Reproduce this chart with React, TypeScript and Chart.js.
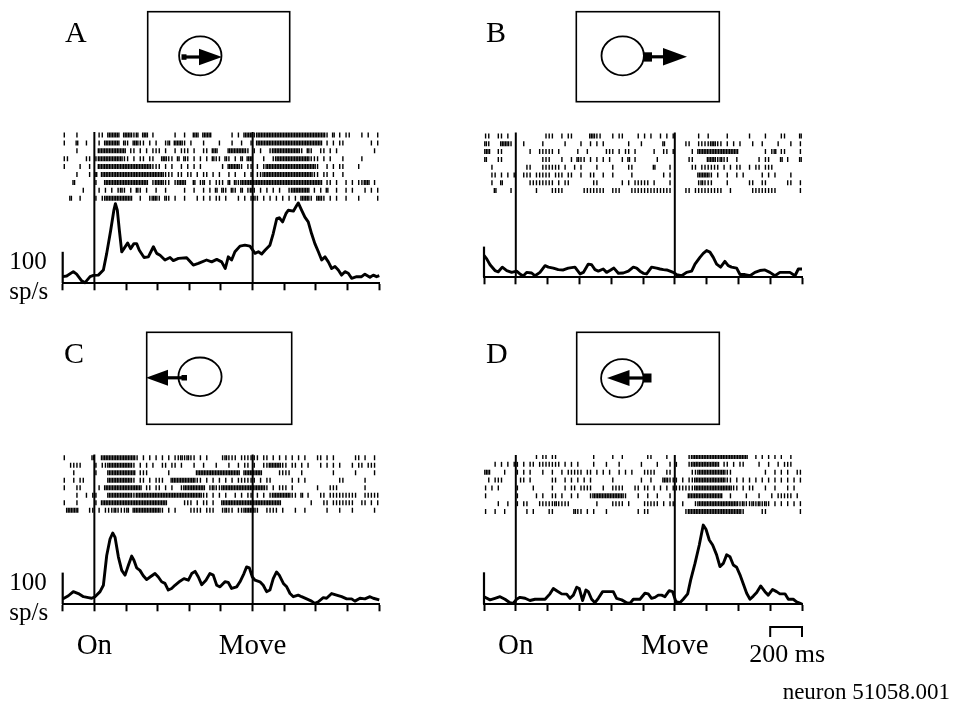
import React, { useEffect, useRef } from 'react';
import { Chart, registerables } from 'chart.js';

Chart.register(...registerables);

// ---------- axes / events ----------
const X_MIN = -200;
const X_MAX = 1800;
const X_STEP = 200;
const EVENT_TIMES = [0, 1000];
const EVENT_LABELS = ['On', 'Move'];
const SCALE_BAR_MS = [1600, 1800];
const SCALE_BAR_LABEL = '200 ms';
const RATE_BAR = [0, 100];
const RATE_LABEL = ['100', 'sp/s'];
const NEURON_LABEL = 'neuron 51058.001';
const BIN_MS = 20; // raster strings: one char = spike count in a 20 ms bin

// ---------- rasters (rows top to bottom) ----------
const RASTER_A = [
  '1...1..... .11.2222.2 2212.22.1. .....1..1. .22.222... ...1.1.222 1222222222 2222222222 2221.2.1.1 1...1.1..1',
  '1...2..1.. .1.22222.2 1.2211.1.1 ..12.2221. 1...1....1 ...1..1..1 .222222222 2222222222 22.1.1.11. .......1.1',
  '....1..... .222222222 .11.1.1.11 1.1..1.111 .1..11.22. ..2222221. 1.1..12222 222221.21. .11.1.1... ........1.',
  '11.....11. 1222222221 1.1.11.11. .2211.2.21 .1.1.1.211 .21.1.2.22 ...1..1222 2222222211 1.1.1...1. ....1.....',
  '1....1..1. .222222222 2222222211 1.1.1..1.1 .1.1...... 1.22221.11 .1.1222222 2222222222 1..1.1.11. ...1......',
  '....1...1. 2.22222222 2222222222 22111.11.1 1.1.11.1.1 ..1.1..1.1 .112222222 2222222221 1.11.1..1. ..........',
  '...2...... 1..2222222 2222222.12 2211.1222. .2.12.1.11 1.2.212222 2222222222 2222222222 22.11.1..1 .1.1122.1.',
  '......1... .1.1.1.121 .1.21.1..1 ..1.....1. .1..1.1.2. 21.21.2.12 1.1.1.1.1. .1222222.1 .1.2..1..1 .1...1.1.1',
  '..2..1.... 1.12222222 22..1..122 1.21.1..1. ..1.1.1.11 .1...1.1.1 21.1.1.1.1 .1.1.2221. 221.1.1..1 ...1.....1',
];
const RASTER_B = [
  '11..11.1.. .........1 11..1.11.. ...2211... 1.11....1. 1.1..1.1.1 .......1.. 1.....1... ...1....1. ...11....2',
  '21...2221. ..1.....1. .....1.... 1..1.1.1.. .....1...1 ......2... ...11..111 12211.1.1. 1...1..1.. ..1...1..1',
  '22..11.... ....1..111 11.1.....1 ..1.....11 1.1.11.1.. ...1..11.1 .....1.222 2222222222 ........1. 12.11....1',
  '2...11.... ........11 1...1..1.2 11.1.1.1.1 ...1.2.1.. ....1..... ....11.... 2221211..1 ......1.11 ...2.1...2',
  '..1....... ...11...11 1111.1..1. 1....1.... 1....11... ...2....1. .....11.11 1111.1.1.1 1..1.11.11 1.........',
  '..11.1.1.1 ..111.1111 1.111.11.. 1..11..1.. 1.....1... ......1.1. .......222 21.1..1..1 .1.....1.1 .1....1...',
  '..1..2.... ....111111 11.1.11... ....11.... ...1.1.111 11.1....1. .......121 11....1... ...11..11. .....11..1',
  '...2....1. ......1... .1111..... .1111111.. 111...1111 111111111. ...11.1111 11111..1.. ....111111 11.......1',
];
const RASTER_C = [
  '1........2 ..22222222 2221.1.1.1 .1.1.11212 11.1.1.... 12111.1111 11.11.1.1. 1.1.1.1... 11.1.1.... ..11.1..1.',
  '..1111.... 1.11222222 221.1.1.1. .11.11.1.. .1..1...1. ..1..1.11. 1..1122221 1.11.1.1.. .1.1.1.1.. .1.11.111.',
  '...1...... 1...222222 222.111... ...1...... ..22222222 222222.222 222.....11 11...1.... .....1.... ..1.....1.',
  '1..1.11... ....222222 221.11.1.1 11..222222 2211.1.1.1 .1.1.11111 1.1.11.... ..1.1.1... .......11. .....1....',
  '1...11.... .1.2222222 22222.11.1 1.1.1..122 22222.1211 2222222222 22221.1.11 1.1....... 1...111... .....1....',
  '....1..1.1 1...222222 2212222222 2222222222 222211.1.1 .1..1.1.11 .1.1.12222 2211.2.1.. .11.111111 111..11111',
  '1...1..... 1.22222222 2222222222 222.....11 1.1.11.1.. 2222222222 222222222. ........1. ..11.11111 11..11.1.1',
  '.2222...11 .1.1112111 2.22222222 21.1.1.... 1111.111.. 1211.11222 21..1111.1 ...1..1... ...1...1.. .1......1.',
];
const RASTER_D = [
  '.......... ......1.11 .11....... ....1..... 1..1...... .11....1.. ....122222 2222222222 222..1.1.1 .1.1..1...',
  '...1.1.1.1 1.1.11.111 1111.1.1.1 ....1...1. ..1......1 ....1...1. 1...122222 2222.11.1. 11....1..1 ..1.111...',
  '22....1... 1.1.1...1. .1..1.1111 1.11.1.1.1 ..1.1.1... 1111...11. .....11222 22222211.. ........1. .1.1.1..11',
  '.1.111.... .11.1..... .11..1.1.1 .1.1...... 1........1 ..1...2211 1.1.112222 22222211.1 .1.1.1.1.1 .1.1.1.1.1',
  '1.1.1..... 1....1.... .1...1.11. 1111...1.. 1111...11. 11.1.1.1.1 1111112222 2222222211 .1.11...1. .1...1.1..',
  '1......... 1.....1.1. .11.1..1.1 ...1222222 22221...1. .1..1...1. ....222222 22222..1.. ..1...1... 1.11111.1.',
  '....1..1.. 1.11...111 1121111... .....1.... 1111.1.... 11111.1.11 ..1...1222 2222222222 1211212121 .1.1.1.1.1',
  '1..1..1... ...1.1.... 11......21 1.1.1...1. ........1. 11........ ...1222222 2222222222 21.....11. .........1',
];

// ---------- PSTH (ms, spikes/s) ----------
const PSTH_A_T = [-200, -175, -133, -112, -80, -59, -27, -6, 25, 57, 78, 103, 124, 133, 145, 158, 173, 187, 210, 229, 250, 267, 284, 314, 341, 373, 394, 415, 446, 478, 499, 531, 583, 625, 657, 709, 741, 773, 804, 827, 846, 867, 888, 920, 951, 983, 1015, 1036, 1057, 1078, 1109, 1130, 1152, 1168, 1189, 1210, 1225, 1257, 1278, 1288, 1309, 1330, 1351, 1372, 1393, 1415, 1436, 1457, 1478, 1499, 1520, 1541, 1562, 1583, 1604, 1625, 1657, 1688, 1709, 1741, 1762, 1783, 1800];
const PSTH_A_R = [21, 23, 37, 29, 8, 2, 21, 25, 26, 42, 95, 168, 234, 253, 232, 168, 100, 110, 128, 110, 126, 126, 105, 82, 84, 116, 95, 89, 74, 82, 72, 79, 81, 58, 63, 74, 68, 76, 68, 47, 84, 74, 100, 118, 121, 118, 95, 100, 93, 105, 121, 158, 205, 208, 195, 221, 232, 229, 247, 255, 232, 210, 195, 158, 126, 100, 74, 84, 68, 47, 53, 42, 26, 37, 32, 16, 21, 21, 29, 19, 26, 21, 24];

const PSTH_B_T = [-200, -183, -162, -131, -110, -85, -57, -26, 5, 26, 47, 68, 100, 121, 152, 184, 205, 236, 267, 299, 330, 372, 404, 425, 456, 477, 498, 519, 550, 571, 592, 617, 645, 676, 708, 739, 760, 781, 802, 823, 854, 886, 907, 928, 949, 970, 990, 1011, 1043, 1074, 1106, 1127, 1158, 1179, 1200, 1221, 1242, 1263, 1288, 1315, 1336, 1357, 1389, 1410, 1441, 1473, 1504, 1535, 1567, 1598, 1630, 1661, 1693, 1724, 1756, 1777, 1800];
const PSTH_B_R = [71, 60, 41, 22, 18, 33, 22, 16, 20, 11, 4, 16, 14, 5, 16, 38, 33, 30, 25, 24, 30, 33, 11, 16, 43, 41, 25, 20, 27, 16, 22, 30, 13, 14, 20, 33, 30, 20, 13, 11, 33, 30, 27, 25, 24, 20, 16, 9, 5, 16, 20, 43, 65, 78, 87, 82, 65, 43, 33, 52, 38, 33, 30, 9, 9, 5, 16, 22, 24, 16, 5, 16, 16, 16, 5, 27, 27];

const PSTH_C_T = [-200, -164, -133, -101, -69, -38, -17, 4, 36, 57, 78, 99, 116, 131, 152, 173, 194, 215, 236, 250, 267, 288, 309, 330, 352, 383, 404, 425, 446, 467, 488, 509, 541, 566, 594, 615, 636, 657, 678, 705, 730, 751, 773, 794, 825, 846, 867, 899, 920, 945, 962, 979, 998, 1015, 1046, 1067, 1088, 1109, 1130, 1151, 1168, 1194, 1215, 1236, 1257, 1288, 1309, 1341, 1372, 1393, 1415, 1446, 1467, 1499, 1530, 1562, 1594, 1625, 1646, 1678, 1709, 1741, 1762, 1800];
const PSTH_C_R = [17, 27, 40, 34, 24, 21, 19, 24, 40, 60, 154, 206, 225, 211, 149, 107, 92, 123, 152, 139, 115, 107, 90, 78, 86, 97, 86, 71, 66, 45, 50, 60, 73, 81, 76, 97, 104, 86, 62, 76, 97, 92, 60, 55, 71, 69, 50, 55, 71, 97, 118, 115, 86, 76, 71, 60, 40, 45, 81, 102, 92, 66, 55, 34, 24, 29, 24, 17, 10, 3, 8, 21, 19, 34, 29, 24, 17, 17, 10, 19, 17, 24, 19, 14];

const PSTH_D_T = [-200, -162, -131, -99, -68, -37, -16, 5, 26, 58, 89, 121, 184, 215, 236, 257, 288, 320, 341, 362, 383, 399, 420, 441, 456, 477, 498, 519, 546, 582, 613, 634, 666, 697, 718, 739, 781, 812, 833, 854, 875, 896, 917, 938, 965, 986, 1007, 1032, 1053, 1081, 1100, 1127, 1154, 1179, 1196, 1217, 1238, 1263, 1284, 1305, 1326, 1347, 1368, 1389, 1410, 1431, 1452, 1473, 1494, 1515, 1540, 1567, 1588, 1615, 1640, 1661, 1693, 1714, 1745, 1766, 1800];
const PSTH_D_R = [23, 13, 18, 23, 15, 4, 2, 15, 21, 18, 11, 15, 15, 32, 49, 42, 32, 31, 18, 28, 53, 49, 11, 44, 39, 15, 4, 18, 39, 39, 39, 18, 13, 4, 2, 15, 15, 34, 32, 18, 21, 28, 28, 23, 42, 39, 7, 4, 15, 32, 76, 128, 186, 249, 236, 202, 186, 155, 118, 128, 155, 149, 123, 116, 92, 63, 34, 15, 25, 36, 57, 39, 28, 46, 39, 32, 32, 15, 15, 7, 0];

// ---------- layout (page pixels) ----------
const W = 954;
const H = 706;
const TICK_LEN = 7;
const SERIF = '"Liberation Serif", "Times New Roman", serif';

type Icon = {
  box: number[]; circle: number[]; tail: number[]; shaft: number[]; y: number; head: number[];
};
type Panel = {
  id: string; raster: string[]; t: number[]; r: number[];
  area: { l: number; r: number; t: number; b: number };
  pxPer100: number; row0: number; rowGap: number;
  rateLabel: boolean; eventLabels: boolean; scaleBar: boolean; neuron: boolean;
  letter: number[]; icon: Icon;
};

const PANELS: Panel[] = [
  {
    id: 'A', raster: RASTER_A, t: PSTH_A_T, r: PSTH_A_R,
    area: { l: 62.7, r: 379.3, t: 132, b: 283.3 }, pxPer100: 31.5, row0: 3, rowGap: 7.9,
    rateLabel: true, eventLabels: false, scaleBar: false, neuron: false,
    letter: [65, 42],
    icon: { box: [147.7, 11.7, 289.7, 101.7], circle: [200.3, 55.8, 21.2, 19.5], tail: [181.5, 54.3, 5, 5.5], shaft: [184, 200], y: 57, head: [199, 222, 8.2] },
  },
  {
    id: 'B', raster: RASTER_B, t: PSTH_B_T, r: PSTH_B_R,
    area: { l: 484, r: 802, t: 132.5, b: 277.3 }, pxPer100: 30.7, row0: 3.5, rowGap: 7.8,
    rateLabel: false, eventLabels: false, scaleBar: false, neuron: false,
    letter: [486, 42],
    icon: { box: [576.3, 11.7, 719.3, 101.7], circle: [622.7, 55.8, 21.2, 19.5], tail: [644, 52.3, 8, 9.3], shaft: [651, 664], y: 56.8, head: [663, 687, 8.7] },
  },
  {
    id: 'C', raster: RASTER_C, t: PSTH_C_T, r: PSTH_C_R,
    area: { l: 62.7, r: 379.3, t: 454.5, b: 604.3 }, pxPer100: 31.7, row0: 3.2, rowGap: 7.5,
    rateLabel: true, eventLabels: true, scaleBar: false, neuron: false,
    letter: [64, 363],
    icon: { box: [146.7, 332.3, 291.7, 424.3], circle: [200, 376.8, 21.6, 19.3], tail: [181.5, 375, 5.5, 5.5], shaft: [183, 166], y: 377.8, head: [168, 146, 8] },
  },
  {
    id: 'D', raster: RASTER_D, t: PSTH_D_T, r: PSTH_D_R,
    area: { l: 484, r: 802, t: 455, b: 604 }, pxPer100: 31.7, row0: 1.5, rowGap: 7.86,
    rateLabel: false, eventLabels: true, scaleBar: true, neuron: true,
    letter: [486, 363],
    icon: { box: [576.7, 332.3, 719.3, 424.3], circle: [622.3, 378.3, 21.2, 19.2], tail: [643.5, 373.5, 8, 9], shaft: [644, 628], y: 378, head: [629.5, 607, 8] },
  },
];

function decodeRaster(rows: string[]) {
  const pts: { x: number; y: number }[] = [];
  rows.forEach((row, j) => {
    const bins = row.replace(/ /g, '');
    for (let i = 0; i < bins.length; i++) {
      const n = bins[i] === '.' ? 0 : parseInt(bins[i], 10);
      for (let k = 0; k < n; k++) {
        pts.push({ x: X_MIN + BIN_MS * i + (BIN_MS * (k + 0.5)) / n, y: j });
      }
    }
  });
  return pts;
}

function drawIcon(ctx: CanvasRenderingContext2D, ic: Icon) {
  ctx.lineWidth = 1.6;
  const [bx1, by1, bx2, by2] = ic.box;
  ctx.strokeRect(bx1, by1, bx2 - bx1, by2 - by1);
  const [cx, cy, rx, ry] = ic.circle;
  ctx.lineWidth = 1.8;
  ctx.beginPath();
  ctx.ellipse(cx, cy, rx, ry, 0, 0, Math.PI * 2);
  ctx.stroke();
  const [tx, ty, tw, th] = ic.tail;
  ctx.fillRect(tx, ty, tw, th);
  ctx.lineWidth = 3.2;
  ctx.beginPath();
  ctx.moveTo(ic.shaft[0], ic.y);
  ctx.lineTo(ic.shaft[1], ic.y);
  ctx.stroke();
  const [hb, ht, hh] = ic.head;
  ctx.beginPath();
  ctx.moveTo(ht, ic.y);
  ctx.lineTo(hb, ic.y - hh);
  ctx.lineTo(hb, ic.y + hh);
  ctx.closePath();
  ctx.fill();
}

function decorPlugin(p: Panel) {
  return {
    id: 'decor' + p.id,
    afterDraw(chart: any) {
      const ctx: CanvasRenderingContext2D = chart.ctx;
      const xs = chart.scales.x;
      const ys = chart.scales.y;
      ctx.save();
      ctx.fillStyle = '#000';
      ctx.strokeStyle = '#000';
      ctx.textBaseline = 'alphabetic';
      ctx.font = `30px ${SERIF}`;
      ctx.textAlign = 'left';
      ctx.fillText(p.id, p.letter[0], p.letter[1]);
      drawIcon(ctx, p.icon);
      const axisY = ys.getPixelForValue(0);
      if (p.rateLabel) {
        ctx.font = `25px ${SERIF}`;
        ctx.textAlign = 'right';
        ctx.fillText(RATE_LABEL[0], xs.left - 16, ys.getPixelForValue(RATE_BAR[1]) + 17.5);
        ctx.fillText(RATE_LABEL[1], xs.left - 14.5, axisY + 16);
      }
      if (p.eventLabels) {
        ctx.font = `29px ${SERIF}`;
        ctx.textAlign = 'center';
        EVENT_TIMES.forEach((t, i) => {
          ctx.fillText(EVENT_LABELS[i], xs.getPixelForValue(t), axisY + 49.5);
        });
      }
      if (p.scaleBar) {
        const x1 = xs.getPixelForValue(SCALE_BAR_MS[0]);
        const x2 = xs.getPixelForValue(SCALE_BAR_MS[1]);
        const yb = axisY + 23;
        ctx.lineWidth = 2;
        ctx.beginPath();
        ctx.moveTo(x1, yb + 10);
        ctx.lineTo(x1, yb);
        ctx.lineTo(x2, yb);
        ctx.lineTo(x2, yb + 10);
        ctx.stroke();
        ctx.font = `26px ${SERIF}`;
        ctx.textAlign = 'center';
        ctx.fillText(SCALE_BAR_LABEL, (x1 + x2) / 2 + 1, axisY + 58);
      }
      if (p.neuron) {
        ctx.font = `23px ${SERIF}`;
        ctx.textAlign = 'right';
        ctx.fillText(NEURON_LABEL, 950, 699);
      }
      ctx.restore();
    },
  };
}

function makeChart(canvas: HTMLCanvasElement, p: Panel) {
  const areaH = p.area.b - p.area.t;
  const yMax = (areaH / p.pxPer100) * 100;
  const rMin = -p.row0 / p.rowGap;
  const rMax = rMin + areaH / p.rowGap;
  const spikes = decodeRaster(p.raster);
  const psth = p.t.map((t, i) => ({ x: t, y: p.r[i] }));
  const eventSets = EVENT_TIMES.map((t) => ({
    type: 'line' as const,
    data: [{ x: t, y: 0 }, { x: t, y: yMax }],
    yAxisID: 'y',
    borderColor: '#000',
    borderWidth: 2,
    pointRadius: 0,
    clip: false as any,
  }));
  return new Chart(canvas, {
    type: 'scatter',
    data: {
      datasets: [
        {
          type: 'scatter',
          data: spikes,
          yAxisID: 'yr',
          pointStyle: 'line',
          pointRotation: 90,
          pointRadius: 2.5,
          pointBorderWidth: 1.4,
          pointBorderColor: '#000',
          pointBackgroundColor: '#000',
        } as any,
        {
          type: 'line',
          data: psth,
          yAxisID: 'y',
          borderColor: '#000',
          borderWidth: 2.9,
          pointRadius: 0,
          tension: 0,
          borderJoinStyle: 'round',
          clip: false,
        } as any,
        {
          type: 'line',
          data: [{ x: X_MIN, y: RATE_BAR[0] }, { x: X_MIN, y: RATE_BAR[1] }],
          yAxisID: 'y',
          borderColor: '#000',
          borderWidth: 2.2,
          pointRadius: 0,
          clip: false,
        } as any,
        ...(eventSets as any[]),
      ],
    },
    options: {
      responsive: false,
      animation: false,
      events: [],
      layout: {
        padding: { left: p.area.l, right: W - p.area.r, top: p.area.t, bottom: H - p.area.b - TICK_LEN },
      },
      plugins: { legend: { display: false }, tooltip: { enabled: false } },
      scales: {
        x: {
          type: 'linear',
          position: 'bottom',
          min: X_MIN,
          max: X_MAX,
          ticks: { display: false, stepSize: X_STEP },
          grid: { drawOnChartArea: false, drawTicks: true, tickLength: TICK_LEN, tickWidth: 2, tickColor: '#000' },
          border: { display: true, color: '#000', width: 2 },
        },
        y: { type: 'linear', display: false, min: 0, max: yMax },
        yr: { type: 'linear', display: false, min: rMin, max: rMax, reverse: true },
      },
    } as any,
    plugins: [decorPlugin(p)],
  });
}

export default function App() {
  const refs = useRef<(HTMLCanvasElement | null)[]>([]);
  useEffect(() => {
    const charts = PANELS.map((p, i) => makeChart(refs.current[i] as HTMLCanvasElement, p));
    return () => charts.forEach((c) => c.destroy());
  }, []);
  return (
    <div style={{ position: 'absolute', left: 0, top: 0, width: W, height: H, background: '#fff', overflow: 'hidden' }}>
      {PANELS.map((p, i) => (
        <canvas
          key={p.id}
          ref={(el) => { refs.current[i] = el; }}
          width={W}
          height={H}
          style={{ position: 'absolute', left: 0, top: 0, width: W, height: H }}
        />
      ))}
    </div>
  );
}
